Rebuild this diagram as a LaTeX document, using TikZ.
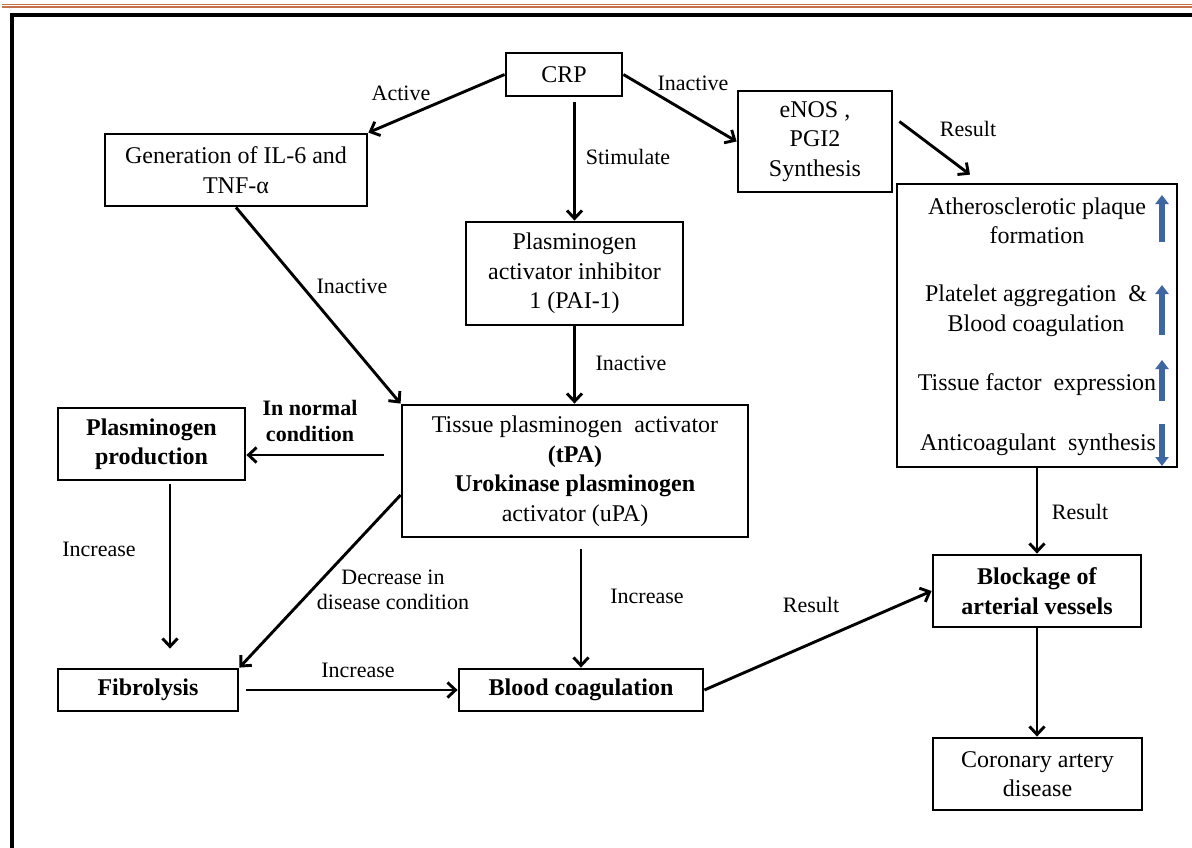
\documentclass[tikz,border=0pt]{standalone}
\usepackage{fontspec}
\setmainfont{Liberation Serif}
\usetikzlibrary{arrows.meta,calc}
\definecolor{hdr}{RGB}{196,112,72}
\definecolor{bluearr}{RGB}{62,102,160}
\newcommand{\mybigfont}{\rmfamily\fontsize{24}{29.5}\selectfont}
\newcommand{\mylabelfont}{\rmfamily\fontsize{22}{25.5}\selectfont}
\begin{document}
\begin{tikzpicture}[x=1pt,y=-1pt,
  box/.style={draw, line width=2.8pt, align=center, inner sep=0pt, font=\mybigfont},
  rtxt/.style={align=center, inner sep=0pt, font=\mybigfont},
  lbl/.style={align=center, inner sep=0pt, font=\mylabelfont},
  arr/.style={line width=2.9pt, -{Straight Barb[length=8pt,width=15pt]}},
  bluetip/.style={line width=6pt, bluearr, -{Triangle[length=9pt,width=13pt]}}]
\useasboundingbox (0,0) rectangle (1192,848);
\clip (0,0) rectangle (1192,848);
\fill[white] (0,0) rectangle (1192,848);
% header lines
\draw[hdr, line width=0.9pt] (2,4.3) -- (1192,4.3);
\draw[hdr, line width=1.6pt] (2,7) -- (1192,7);
% outer frame
\draw[line width=3.4pt] (1300,15) -- (12,15) -- (12,900);

% boxes
\node[box, minimum width=116pt, minimum height=43pt] (crp) at (564,74.5) {CRP};
\node[box, minimum width=262pt, minimum height=72pt] (gen) at (236,170) {Generation of IL-6 and\\TNF-α};
\node[box, minimum width=154pt, minimum height=101pt] (enos) at (815,141.5) {eNOS ,\\PGI2\\Synthesis};
\node[box, minimum width=217pt, minimum height=103pt] (pai) at (574.5,273.5) {Plasminogen\\activator inhibitor\\1 (PAI-1)};
\node[box, minimum width=346pt, minimum height=132pt] (tpa) at (575,471) {Tissue plasminogen\ \ activator\\\textbf{(tPA)}\\\textbf{Urokinase plasminogen}\\activator (uPA)};
\node[box, minimum width=187pt, minimum height=72pt] (plas) at (151.5,444) {\textbf{Plasminogen}\\\textbf{production}};
\node[box, minimum width=180pt, minimum height=42pt] (fib) at (148,690) {\textbf{Fibrolysis}};
\node[box, minimum width=244pt, minimum height=42pt] (blood) at (581,690) {\textbf{Blood coagulation}};
\node[box, minimum width=280pt, minimum height=283pt] (rbox) at (1037,325.5) {};
\node[box, minimum width=208pt, minimum height=72pt] (block) at (1037,591) {\textbf{Blockage of}\\\textbf{arterial vessels}};
\node[box, minimum width=209pt, minimum height=72pt] (cad) at (1037.5,774) {Coronary artery\\disease};

% texts inside right box
\node[rtxt] (rt1) at (1037,221) {Atherosclerotic plaque\\formation};
\node[rtxt] (rt2) at (1036,311) {Platelet aggregation \ \&\\Blood coagulation};
\node[rtxt] (rt3) at (1037,385) {Tissue factor \ expression};
\node[rtxt] (rt4) at (1038,445) {Anticoagulant \ synthesis};
% blue arrows
\draw[bluetip] (1162,242) -- (1162,195);
\draw[bluetip] (1162,335) -- (1162,285);
\draw[bluetip] (1162,401) -- (1162,360);
\draw[bluetip] (1162,424) -- (1162,466);

% connectors
\draw[arr] (crp.west) -- (gen.north east);
\draw[arr, shorten <=5pt] (pai.north |- crp.south) -- (pai.north);
\draw[arr] (crp.east) -- (enos.west);
\draw[arr] ([shift={(6,-20)}]enos.east) -- ([shift={(-67,-8)}]rbox.north);
\draw[arr] (gen.south) -- (tpa.north west);
\draw[arr] (pai.south) -- (pai.south |- tpa.north);
\coordinate (t7) at ([shift={(-17,-16)}]tpa.west);
\draw[arr] (t7) -- (t7 -| plas.east);
\draw[arr] ([xshift=18.5pt,yshift=-3pt]plas.south) -- ([xshift=22pt,yshift=19pt]fib.north);
\draw[arr] ([yshift=-24pt]tpa.west) -- (fib.north east);
\draw[arr, shorten <=7pt] (fib.east) -- (blood.west);
\draw[arr, shorten <=11pt] (blood.north |- tpa.south) -- (blood.north);
\draw[arr] (blood.east) -- (block.west);
\draw[arr] (rbox.south) -- (block.north);
\draw[arr] (block.south) -- (block.south |- cad.north);

% labels
\node[lbl] (lActive) at (401,93) {Active};
\node[lbl] (lInact1) at (693,83) {Inactive};
\node[lbl] (lStim) at (628,157) {Stimulate};
\node[lbl] (lRes1) at (968,129) {Result};
\node[lbl] (lInact2) at (352,286) {Inactive};
\node[lbl] (lInact3) at (631,363) {Inactive};
\node[lbl] (lNorm) at (310,421) {\textbf{In normal}\\\textbf{condition}};
\node[lbl] (lInc1) at (99,549) {Increase};
\node[lbl] (lDec) at (393,590) {Decrease in\\disease condition};
\node[lbl] (lInc2) at (358,670) {Increase};
\node[lbl] (lInc3) at (647,596) {Increase};
\node[lbl] (lRes2) at (811,605) {Result};
\node[lbl] (lRes3) at (1080,512) {Result};
\end{tikzpicture}
\end{document}
